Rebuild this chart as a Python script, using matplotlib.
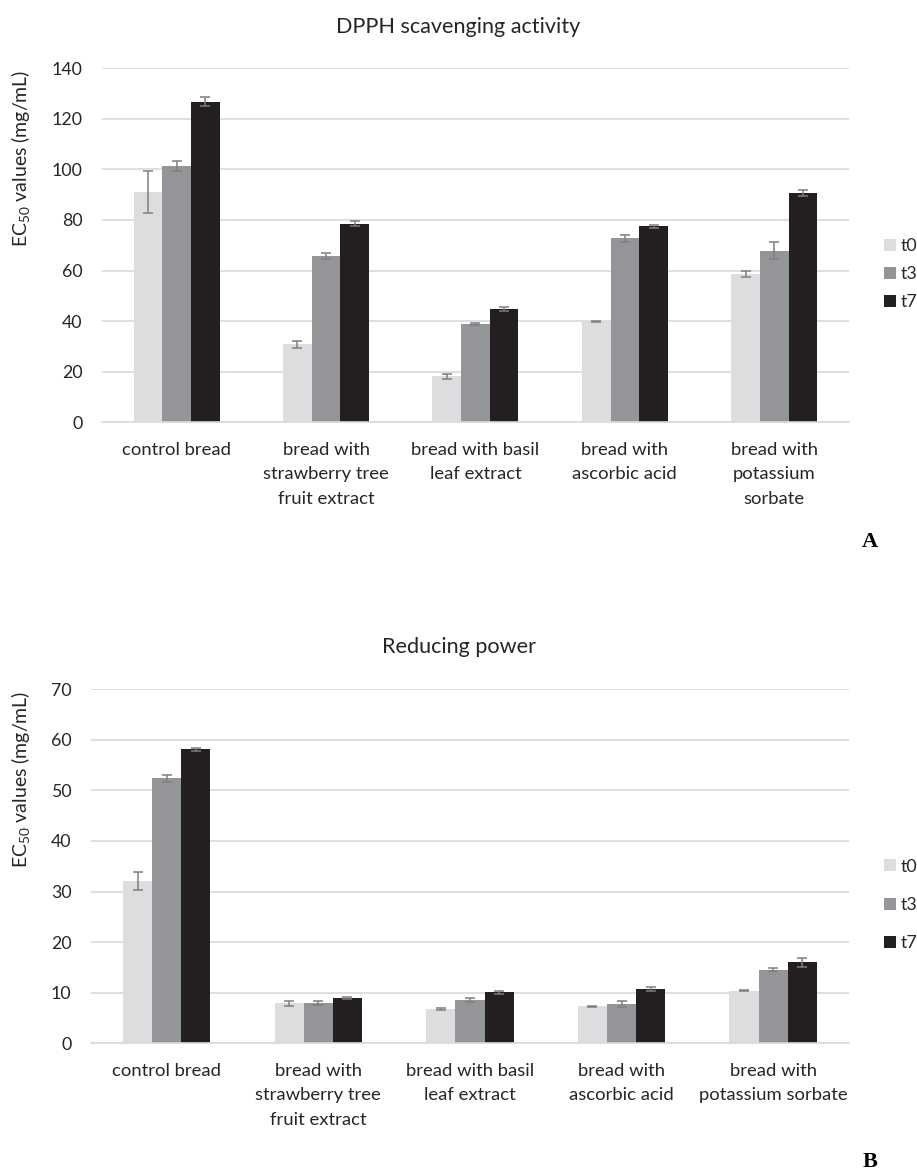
import numpy as np
import matplotlib.pyplot as plt

plt.rcParams['font.family'] = ['Lato', 'DejaVu Sans']
plt.rcParams['mathtext.fontset'] = 'custom'
plt.rcParams['mathtext.rm'] = 'Lato'
plt.rcParams['mathtext.default'] = 'regular'

# time points
series = ['t0', 't3', 't7']
colors = ['#dcdddf', '#939598', '#231f20']

labels_a = ['control bread', 'bread with\nstrawberry tree\nfruit extract',
            'bread with basil\nleaf extract', 'bread with\nascorbic acid',
            'bread with\npotassium\nsorbate']
labels_b = ['control bread', 'bread with\nstrawberry tree\nfruit extract',
            'bread with basil\nleaf extract', 'bread with\nascorbic acid',
            'bread with\npotassium sorbate']

# DPPH scavenging activity, EC50 (mg/mL)
dpph_t0 = [91.0, 30.9, 18.2, 40.0, 58.6]
dpph_t3 = [101.4, 65.6, 38.9, 72.7, 67.8]
dpph_t7 = [126.7, 78.6, 44.7, 77.5, 90.6]
dpph_t0_err = [8.2, 1.4, 0.9, 0.2, 1.3]
dpph_t3_err = [2.0, 1.2, 0.4, 1.4, 3.4]
dpph_t7_err = [1.8, 1.0, 0.8, 0.5, 1.2]

# Reducing power, EC50 (mg/mL)
rp_t0 = [32.1, 7.9, 6.8, 7.3, 10.4]
rp_t3 = [52.4, 8.0, 8.6, 7.8, 14.5]
rp_t7 = [58.1, 9.0, 10.1, 10.7, 16.0]
rp_t0_err = [1.8, 0.5, 0.15, 0.15, 0.15]
rp_t3_err = [0.7, 0.4, 0.4, 0.6, 0.3]
rp_t7_err = [0.3, 0.2, 0.3, 0.4, 0.9]

txt = '#262626'


def draw_panel(ax, vals, errs, cats, ymax, ystep, leg_y, leg_space):
    x = np.arange(len(cats))
    w = 0.192
    for i, (v, e) in enumerate(zip(vals, errs)):
        ax.bar(x + (i - 1) * w, v, w, color=colors[i], label=series[i],
               yerr=e, error_kw=dict(ecolor='#7f7f7f', elinewidth=1.1,
                                     capsize=3.6, capthick=1.1), zorder=3)
    ax.set_xlim(-0.5, len(cats) - 0.5)
    ax.set_ylim(0, ymax)
    ax.set_yticks(np.arange(0, ymax + 1, ystep))
    ax.set_xticks(x)
    ax.set_xticklabels(cats, fontsize=13.3, color=txt, linespacing=1.65)
    ax.tick_params(axis='y', length=0, pad=14, labelsize=12.8, labelcolor=txt)
    ax.tick_params(axis='x', length=0, pad=14)
    ax.grid(axis='y', color='#d9d9d9', linewidth=1.2, zorder=0)
    for s in ['top', 'right', 'left']:
        ax.spines[s].set_visible(False)
    ax.spines['bottom'].set_color('#d9d9d9')
    ax.spines['bottom'].set_linewidth(1.2)
    ax.spines['bottom'].set_zorder(4)
    ax.legend(loc='center left', bbox_to_anchor=(884 / 917, 1 - leg_y / 1171),
              bbox_transform=fig.transFigure, frameon=False, borderpad=0,
              borderaxespad=0, fontsize=12.8, handlelength=0.65,
              handleheight=0.65, handletextpad=0.3, labelspacing=leg_space,
              labelcolor=txt)


fig = plt.figure(figsize=(9.17, 11.71), dpi=100)
ax1 = fig.add_axes([0.1112, 0.6394, 0.8146, 0.3023])
ax2 = fig.add_axes([0.0992, 0.1091, 0.8266, 0.3023])

draw_panel(ax1, [dpph_t0, dpph_t3, dpph_t7], [dpph_t0_err, dpph_t3_err, dpph_t7_err],
           labels_a, 140, 20, 274, 0.68)
draw_panel(ax2, [rp_t0, rp_t3, rp_t7], [rp_t0_err, rp_t3_err, rp_t7_err],
           labels_b, 70, 10, 905, 1.26)

fig.text(0.5, 1 - 27 / 1171, 'DPPH scavenging activity', ha='center', va='center',
         fontsize=15.6, color=txt)
fig.text(0.5, 1 - 647 / 1171, 'Reducing power', ha='center', va='center',
         fontsize=15.6, color=txt)

ylab = 'EC$_{50}$ values (mg/mL)'
fig.text(21 / 917, 1 - 158 / 1171, ylab, rotation=90, ha='center', va='center',
         fontsize=14, color=txt)
fig.text(21 / 917, 1 - 779 / 1171, ylab, rotation=90, ha='center', va='center',
         fontsize=14, color=txt)

fig.text(870 / 917, 1 - 542 / 1171, 'A', ha='center', va='center',
         fontsize=16, fontweight='bold', family='Liberation Serif')
fig.text(870 / 917, 1 - 1162 / 1171, 'B', ha='center', va='center',
         fontsize=16, fontweight='bold', family='Liberation Serif')

fig.savefig('out.png', dpi=100)
